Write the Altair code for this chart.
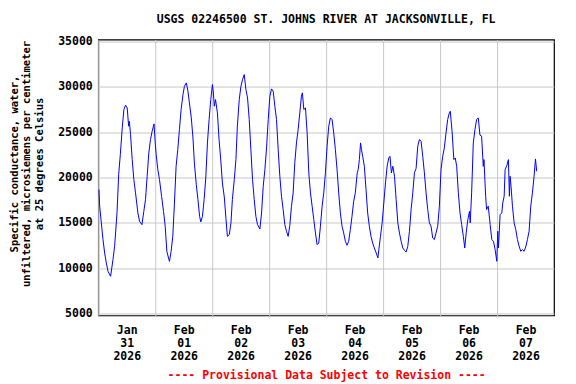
import altair as alt
import pandas as pd

# hours since 2026-01-31 00:00 (local) and specific conductance values
hours = [
    0.3, 0.6, 1.3, 2.0, 2.7, 3.4, 4.1, 5.2, 6.2, 6.9, 7.9, 8.6, 9.3, 10.1, 10.8, 11.5, 12.2, 12.8, 13.1, 13.6,
    14.3, 15.0, 15.7, 16.7, 17.4, 18.4, 19.2, 19.9, 20.6, 21.3, 22.0, 22.7, 23.5, 24.0, 24.4, 25.1, 25.8, 26.7,
    27.5, 28.2, 28.9, 29.6, 30.0, 30.7, 31.4, 32.1, 32.8, 33.5, 34.2, 34.9, 35.7, 36.3, 37.1, 37.8, 38.4, 39.2,
    39.9, 40.5, 41.3, 42.0, 42.7, 43.2, 43.9, 44.6, 45.3, 46.0, 46.7, 47.4, 48.1, 48.5, 48.9, 49.4, 50.2, 50.9,
    51.7, 52.3, 53.1, 53.8, 54.4, 55.2, 55.9, 56.5, 57.3, 58.0, 58.6, 59.4, 60.1, 60.8, 61.5, 62.2, 62.9, 63.6,
    64.3, 65.0, 65.7, 66.4, 67.1, 68.1, 68.8, 69.5, 70.2, 70.9, 71.6, 72.3, 73.0, 73.7, 74.4, 75.1, 75.8, 76.5,
    77.2, 77.9, 78.6, 79.3, 80.0, 80.7, 81.4, 82.1, 82.8, 83.5, 84.2, 84.9, 85.6, 86.0, 86.6, 87.3, 88.0, 88.7,
    89.4, 90.1, 90.8, 91.5, 92.2, 92.9, 93.6, 94.3, 95.0, 95.7, 96.4, 97.1, 97.8, 98.5, 99.2, 99.9, 100.6, 101.3,
    102.0, 102.7, 103.4, 104.1, 104.8, 105.5, 106.2, 106.9, 107.6, 108.3, 109.1, 109.5, 110.0, 110.5, 110.9,
    111.4, 112.1, 112.8, 113.5, 114.2, 114.9, 115.6, 116.3, 117.1, 117.8, 118.2, 118.9, 119.6, 120.3, 121.0,
    121.7, 122.4, 122.9, 123.5, 124.1, 124.8, 125.5, 126.2, 126.9, 127.6, 128.3, 129.0, 129.7, 130.4, 131.1,
    131.8, 132.5, 133.2, 133.9, 134.6, 135.3, 136.0, 136.7, 137.4, 138.1, 138.8, 139.5, 140.2, 140.9, 141.6,
    142.3, 143.0, 143.7, 144.4, 145.1, 145.8, 146.5, 147.2, 147.9, 148.3, 149.1, 149.8, 150.4, 151.0, 151.7,
    152.4, 153.1, 153.8, 154.4, 155.0, 155.7, 156.4, 156.7, 157.3, 158.0, 158.7, 159.4, 160.1, 160.8, 161.5,
    162.2, 162.5, 163.2, 163.6, 164.3, 165.1, 165.8, 166.5, 167.2, 167.9, 168.3, 168.6, 169.3, 170.0, 170.4,
    171.0, 171.4, 172.1, 172.8, 173.2, 173.5, 173.9, 174.5, 175.2, 175.9, 176.6, 177.3, 178.0, 178.7, 179.4,
    180.1, 180.8, 181.5, 182.2, 182.9, 183.6, 184.2, 184.7,
]
values = [
    18670, 16830, 14990, 13150, 11670, 10570, 9650, 9100, 10940, 12410, 16090, 20320, 22530, 25470, 27500, 27980,
    27680, 25660, 26200, 24740, 21980, 19770, 18300, 16090, 15170, 14800, 16270, 17560, 20140, 22710, 24190, 25100,
    25920, 23820, 22530, 20870, 19770, 17900, 16270, 14620, 11860, 11120, 10750, 11860, 13510, 17190, 21240, 23080,
    25290, 27500, 29150, 30070, 30440, 29520, 28230, 26580, 24370, 21610, 19220, 17560, 15720, 15100, 15720, 17560,
    19950, 23820, 26400, 28600, 30260, 29340, 27870, 28600, 27130, 24190, 21610, 19400, 17840, 15450, 13510, 13700,
    14990, 17560, 19770, 21980, 25660, 28600, 30070, 30810, 31360, 29710, 28780, 26390, 23080, 19770, 17560, 15720,
    14800, 14320, 16090, 19030, 20870, 23270, 26390, 28970, 29780, 29520, 27870, 26390, 23080, 20140, 17930, 16460,
    14800, 14070, 13500, 14700, 16830, 18300, 21610, 23820, 25290, 27130, 28970, 29340, 27500, 27680, 24920, 20510,
    18300, 16830, 15350, 13880, 12590, 12780, 14620, 16830, 18300, 20510, 23450, 25660, 26580, 26390, 24920, 23080,
    20870, 18300, 16090, 14620, 13880, 12960, 12520, 12960, 14250, 15720, 17380, 18300, 20510, 20870, 21980, 23820,
    23080, 22340, 21240, 18670, 16090, 14620, 13510, 12780, 12230, 11670, 11120, 12040, 13510, 14990, 17190, 19400,
    21240, 22160, 22340, 20510, 21240, 20140, 17560, 14990, 13880, 12960, 12230, 11960, 11780, 12410, 14070, 16460,
    18300, 20510, 21000, 23450, 24190, 24000, 22340, 20510, 18300, 16460, 14990, 14620, 13330, 13150, 13880, 14620,
    16830, 20870, 22340, 23270, 24920, 26390, 27130, 27310, 24920, 21980, 22160, 21240, 18300, 16090, 14800, 13510,
    12230, 13880, 15350, 16270, 14990, 18300, 23820, 25290, 26390, 26580, 24680, 24560, 21240, 21980, 17930, 16460,
    16830, 14800, 13150, 12960, 12040, 10750, 14070, 12230, 15900, 16090, 17190, 17930, 20870, 21310, 21980, 17930,
    20140, 19030, 16830, 14990, 14250, 13150, 12410, 11860, 12040, 11860, 12340, 13150, 14070, 16830, 18300, 20140,
    22050, 20690,
]

y_ticks = [5000, 10000, 15000, 20000, 25000, 30000, 35000]
chart_title = "USGS 02246500 ST. JOHNS RIVER AT JACKSONVILLE, FL"
y_title = ["Specific conductance, water,", "unfiltered, microsiemens per centimeter", "at 25 degrees Celsius"]
footer = "---- Provisional Data Subject to Revision ----"

FONT = "DejaVu Sans Mono"

start = pd.Timestamp("2026-01-31")
df = pd.DataFrame({
    "time": [(start + pd.Timedelta(hours=h)).strftime("%Y-%m-%dT%H:%M:%S") for h in hours],
    "value": values,
})

day_ticks = [alt.DateTime(year=2026, month=1, date=31)] + [
    alt.DateTime(year=2026, month=2, date=d) for d in range(1, 8)
]

x = alt.X(
    "time:T",
    scale=alt.Scale(domain=[alt.DateTime(year=2026, month=1, date=31),
                            alt.DateTime(year=2026, month=2, date=8)]),
    axis=alt.Axis(
        values=day_ticks,
        grid=True,
        gridColor="#c8c8c8",
        ticks=False,
        domain=False,
        labelOffset=28.5,
        labelFlush=False,
        labelOverlap=False,
        labelBound=False,
        labelExpr="[timeFormat(datum.value, '%b'), timeFormat(datum.value, '%d'), timeFormat(datum.value, '%Y')]",
        labelLineHeight=12.8,
        labelFont=FONT,
        labelFontWeight="bold",
        labelColor="black",
        labelFontSize=11.5,
        labelPadding=9,
        labelAlign="center",
        title=footer,
        titleFont=FONT,
        titleFontWeight="bold",
        titleColor="#ff0000",
        titleFontSize=11.5,
        titlePadding=8,
    ),
)

y = alt.Y(
    "value:Q",
    scale=alt.Scale(domain=[4780, 35220], nice=False, zero=False),
    axis=alt.Axis(
        values=y_ticks,
        format="d",
        grid=True,
        gridColor="#c8c8c8",
        ticks=False,
        domain=False,
        labelFont=FONT,
        labelFontWeight="bold",
        labelColor="black",
        labelFontSize=11.5,
        labelPadding=6,
        title=y_title,
        titleFont=FONT,
        titleFontWeight="bold",
        titleColor="black",
        titleAngle=270,
        titleX=-89,
        titleY=124,
        titleAlign="center",
        titleBaseline="top",
        titleLineHeight=12.5,
        titleFontSize=10.5,
    ),
)

chart = (
    alt.Chart(df)
    .mark_line(color="#0000ff", strokeWidth=1)
    .encode(x=x, y=y)
    .properties(
        width=456,
        height=276,
        background="white",
        title=alt.TitleParams(chart_title, font=FONT, fontSize=11.5, fontWeight="bold",
                              anchor="middle", offset=10, color="black"),
        padding={"left": 90.3, "top": 31.5, "right": 14, "bottom": 68},
        autosize=alt.AutoSizeParams(type="none"),
    )
    .configure_view(stroke="black", strokeWidth=1.2)
)

chart.save("out.html", embed_options={"renderer": "svg", "actions": False})
